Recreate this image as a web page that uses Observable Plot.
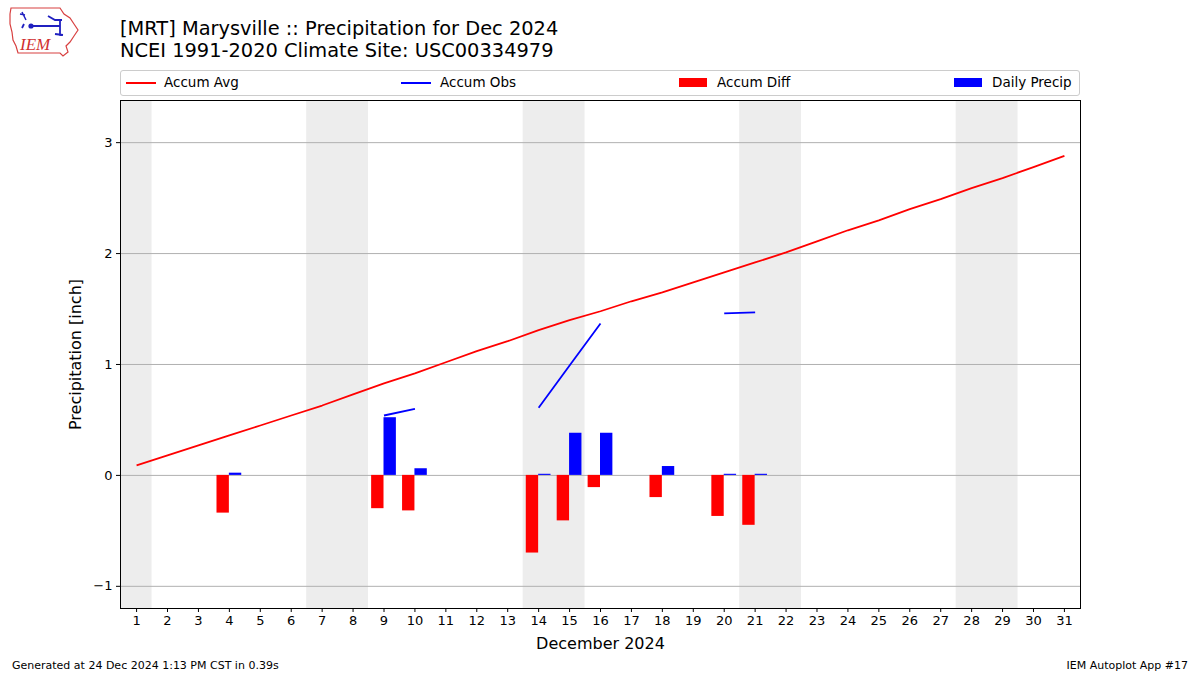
<!DOCTYPE html>
<html><head><meta charset="utf-8">
<script src="https://cdn.jsdelivr.net/npm/d3@7"></script>
<script src="https://cdn.jsdelivr.net/npm/@observablehq/plot@0.6"></script>
<style>
body{margin:0;background:#fff;font-family:"DejaVu Sans",sans-serif;}
#wrap{position:relative;width:1200px;height:675px;overflow:hidden;}
.abs{position:absolute;white-space:nowrap;color:#000;}
#title{left:120px;top:18px;font-size:19.4px;line-height:22px;}
#legend{left:120px;top:70px;width:958px;height:24px;border:1px solid #ccc;border-radius:3px;background:#fff;}
.li{position:absolute;top:3px;font-size:13.5px;line-height:16px;}
.sw{position:absolute;}
.foot{font-size:11px;top:659px;}
</style></head>
<body><div id="wrap">
<div id="chart" class="abs" style="left:0;top:0"></div>
<svg class="abs" style="left:8px;top:6px" width="72" height="52" viewBox="0 0 72 52">
<path d="M3,2 L52,2 L56,8 L62,12 L66,18 L70,24 L66,30 L62,36 L58,40 L60,46 L55,50 L52,47 L10,47 L8,40 L5,34 L4,26 L2,18 L2,8 Z" fill="none" stroke="#d84040" stroke-width="1.2"/>
<path d="M14,6 L18,14 M12,8 L17,9" stroke="#2020c0" stroke-width="1.5"/>
<circle cx="23" cy="20" r="2.6" fill="#2020c0"/>
<path d="M23,20 L52,20 M40,10 L47,14 L54,14 M52,14 L52,30 M47,28 L55,29 M16,18 L14,22" stroke="#2020c0" stroke-width="1.8" fill="none"/>
<text x="12" y="44" fill="#d03030" font-family="Liberation Serif,serif" font-style="italic" font-size="17">IEM</text>
</svg>
<div id="title" class="abs">[MRT] Marysville :: Precipitation for Dec 2024<br>NCEI 1991-2020 Climate Site: USC00334979</div>
<div id="legend" class="abs">
<div class="sw" style="left:5px;top:11px;width:30px;height:2px;background:#ff0000"></div>
<div class="li" style="left:43px">Accum Avg</div>
<div class="sw" style="left:280px;top:11px;width:30px;height:2px;background:#0000ff"></div>
<div class="li" style="left:319px">Accum Obs</div>
<div class="sw" style="left:558px;top:7px;width:28px;height:9px;background:#ff0000"></div>
<div class="li" style="left:596px">Accum Diff</div>
<div class="sw" style="left:833px;top:7px;width:28px;height:9px;background:#0000ff"></div>
<div class="li" style="left:871px">Daily Precip</div>
</div>
<div class="abs foot" style="left:12px">Generated at 24 Dec 2024 1:13 PM CST in 0.39s</div>
<div class="abs foot" style="right:12px">IEM Autoplot App #17</div>
</div>
<script>
const days = d3.range(1, 32);
const accumAvg = [0.09,0.18,0.27,0.36,0.45,0.54,0.63,0.73,0.83,0.92,1.02,1.12,1.21,1.31,1.40,1.48,1.57,1.65,1.74,1.83,1.92,2.01,2.11,2.21,2.30,2.40,2.49,2.59,2.68,2.78,2.88];
// accumulated observed precip (only on days with precip)
const accumObs = [null,null,null,0.02,null,null,null,null,0.54,0.60,null,null,null,0.61,0.99,1.37,null,1.45,null,1.46,1.47,null,null,null,null,null,null,null,null,null,null];
const precipDays = [4,9,10,14,15,16,18,20,21];
const dailyPrecip = [0.02,0.52,0.06,0.01,0.38,0.38,0.08,0.01,0.01];
const accumDiff = [-0.34,-0.30,-0.32,-0.70,-0.41,-0.11,-0.20,-0.37,-0.45];
const weekendStarts = [0.5,6.5,13.5,20.5,27.5];
const weekendEnds = [1.5,8.5,15.5,22.5,29.5];
const yTicks = [-1,0,1,2,3];

const avgData = days.map((d,i)=>({day:d, v:accumAvg[i]}));
const obsData = days.map((d,i)=>({day:d, v:accumObs[i]==null?NaN:accumObs[i]}));
const barData = precipDays.map((d,i)=>({day:d, p:dailyPrecip[i], diff:accumDiff[i]}));
const wk = weekendStarts.map((s,i)=>({s, e:weekendEnds[i]}));

const chart = Plot.plot({
  width:1200, height:675,
  marginLeft:120, marginRight:120, marginTop:100, marginBottom:67,
  style:{fontFamily:"DejaVu Sans, sans-serif", fontSize:"13px", color:"#000", background:"transparent"},
  x:{domain:[0.48,31.52]},
  y:{domain:[-1.2,3.38]},
  marks:[
    Plot.rect(wk,{x1:"s",x2:"e",fill:"#ededed"}),
    Plot.gridY(yTicks,{stroke:"#b0b0b0",strokeOpacity:1,strokeWidth:1}),
    Plot.rectY(barData,{x1:d=>d.day-0.4,x2:d=>d.day,y1:0,y2:"diff",fill:"#ff0000",inset:0}),
    Plot.rectY(barData,{x1:d=>d.day,x2:d=>d.day+0.4,y1:0,y2:"p",fill:"#0000ff",inset:0}),
    Plot.line(avgData,{x:"day",y:"v",stroke:"#ff0000",strokeWidth:1.8,strokeLinecap:"butt"}),
    Plot.line(obsData,{x:"day",y:"v",stroke:"#0000ff",strokeWidth:1.8,strokeLinecap:"butt"}),
    Plot.frame({stroke:"#000",strokeWidth:1}),
    Plot.axisX({ticks:days,tickFormat:d=>String(d),tickSize:4,tickPadding:3,fontSize:13,label:null}),
    Plot.axisY({ticks:yTicks,tickFormat:d=>d<0?"\u2212"+Math.abs(d):String(d),tickSize:4,tickPadding:4,fontSize:13,label:null}),
    Plot.text(["December 2024"],{frameAnchor:"bottom",dy:40,fontSize:16,textAnchor:"middle"}),
    Plot.text(["Precipitation [inch]"],{frameAnchor:"left",dx:-45,rotate:-90,fontSize:16,textAnchor:"middle"})
  ]
});
document.getElementById("chart").appendChild(chart);
</script>
</body></html>
